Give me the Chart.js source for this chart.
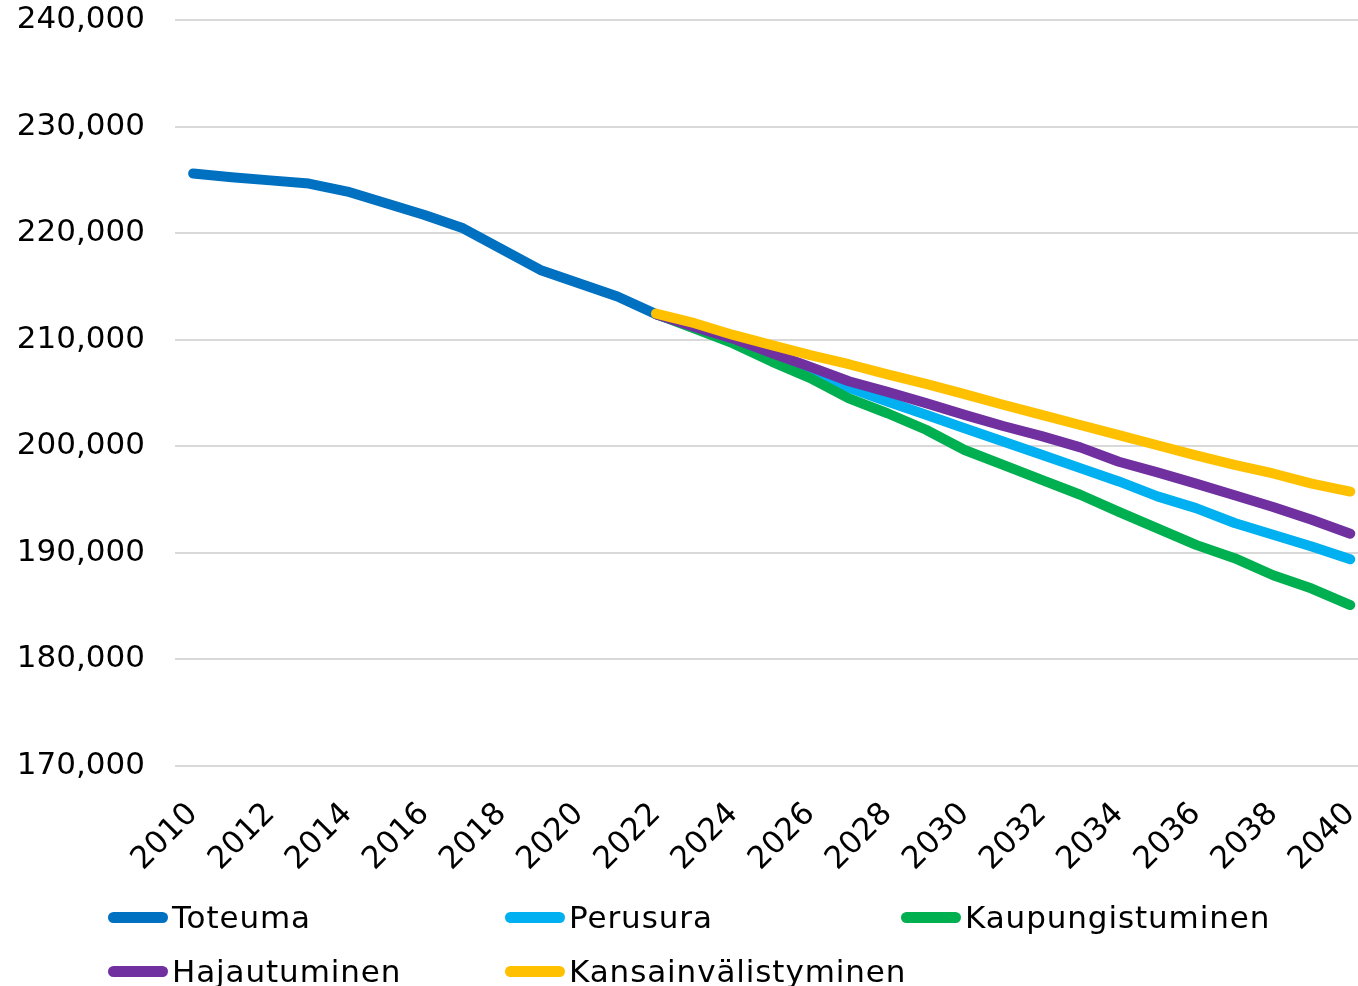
<!DOCTYPE html>
<html>
<head>
<meta charset="utf-8">
<script src="https://cdn.jsdelivr.net/npm/chart.js@4"></script>
<style>
  body { margin: 0; background: #fff; }
  #wrap { position: relative; width: 1358px; height: 986px; }
  #legend { position: absolute; left: 0; top: 0; width: 1358px; height: 986px; pointer-events: none; }
  .item { position: absolute; display: flex; align-items: center; font-family: "DejaVu Sans", sans-serif; font-size: 31px; letter-spacing: 0.9px; color: #000; line-height: 1; }
  .swatch { display: inline-block; width: 60px; height: 11px; border-radius: 6px; margin-right: 4px; }
</style>
</head>
<body>
<div id="wrap">
  <canvas id="myChart" width="1358" height="890"></canvas>
  <div id="legend"></div>
</div>
<script>
// years
const yearsHist = [2010, 2011, 2012, 2013, 2014, 2015, 2016, 2017, 2018, 2019, 2020, 2021, 2022];
const yearsProj = [2022, 2023, 2024, 2025, 2026, 2027, 2028, 2029, 2030, 2031,
                   2032, 2033, 2034, 2035, 2036, 2037, 2038, 2039, 2040];
const xTicks = [2010, 2012, 2014, 2016, 2018, 2020, 2022, 2024, 2026, 2028,
                2030, 2032, 2034, 2036, 2038, 2040];

// population, actual
const toteuma = [225600, 225250, 224950, 224650, 223900, 222800, 221700, 220450, 218500, 216550, 215300, 214050, 212400];

// scenarios
const perusura = [212400, 211200, 210100, 208700, 207000, 205500, 204200, 202950, 201700, 200450,
                  199200, 197950, 196700, 195300, 194200, 192800, 191700, 190600, 189400];
const kaupungistuminen = [212400, 211050, 209650, 207950, 206400, 204500, 203100, 201550, 199650, 198250,
                          196850, 195450, 193850, 192300, 190750, 189500, 187900, 186650, 185100];
const hajautuminen = [212400, 211200, 210100, 208750, 207450, 206100, 205100, 204050, 202950, 201900,
                      200950, 199900, 198550, 197550, 196500, 195400, 194300, 193100, 191800];
const kansainvalistyminen = [212450, 211550, 210450, 209500, 208550, 207700, 206750, 205850, 204900, 203900,
                             202950, 202000, 201050, 200100, 199150, 198250, 197450, 196500, 195750];

const yTicks = [170000, 180000, 190000, 200000, 210000, 220000, 230000, 240000];

const series = [
  { label: 'Toteuma', years: yearsHist, values: toteuma, color: '#0070C0', order: 5 },
  { label: 'Perusura', years: yearsProj, values: perusura, color: '#00B0F0', order: 4 },
  { label: 'Kaupungistuminen', years: yearsProj, values: kaupungistuminen, color: '#00B050', order: 3 },
  { label: 'Hajautuminen', years: yearsProj, values: hajautuminen, color: '#7030A0', order: 2 },
  { label: 'Kansainvälistyminen', years: yearsProj, values: kansainvalistyminen, color: '#FFC000', order: 1 },
];

const tickFont = { family: '"DejaVu Sans", sans-serif', size: 31 };

const data = {
  datasets: series.map(s => ({
    label: s.label,
    data: s.years.map((yr, i) => ({ x: yr, y: s.values[i] })),
    borderColor: s.color,
    backgroundColor: s.color,
    borderWidth: 10,
    borderCapStyle: 'round',
    borderJoinStyle: 'round',
    pointRadius: 0,
    tension: 0,
    fill: false,
    order: s.order,
  }))
};

const config = {
  type: 'line',
  data: data,
  options: {
    responsive: false,
    animation: false,
    layout: { padding: { top: 20, left: 0, right: 0, bottom: 0 } },
    plugins: {
      legend: { display: false },
      tooltip: { enabled: false },
    },
    scales: {
      x: {
        type: 'linear',
        min: 2009.53,
        max: 2040.2,
        grid: { display: false },
        border: { display: false },
        afterBuildTicks: scale => {
          scale.ticks = xTicks.map(v => ({ value: v }));
        },
        afterFit: scale => {
          scale.height = 124;
          scale.paddingLeft = 0;
          scale.paddingRight = 0;
        },
        ticks: {
          autoSkip: false,
          minRotation: 45,
          maxRotation: 45,
          padding: 22,
          color: '#000',
          font: tickFont,
          callback: v => String(v),
        },
      },
      y: {
        min: 170000,
        max: 240000,
        afterBuildTicks: scale => {
          scale.ticks = yTicks.map(v => ({ value: v }));
        },
        afterFit: scale => {
          scale.width = 175;
          scale.paddingTop = 0;
          scale.paddingBottom = 0;
        },
        grid: { color: '#d9d9d9', lineWidth: 2, drawTicks: false },
        border: { display: false },
        ticks: {
          padding: 30,
          color: '#000',
          font: tickFont,
          callback: v => v.toLocaleString('en-US'),
        },
      },
    },
  },
};

const myChart = new Chart(document.getElementById('myChart'), config);

// legend in two rows, three fixed columns
const legendPos = [
  [108, 917], [505, 917], [901, 917],
  [108, 971], [505, 971],
];
const legendEl = document.getElementById('legend');
series.forEach((s, i) => {
  const item = document.createElement('div');
  item.className = 'item';
  item.style.left = legendPos[i][0] + 'px';
  item.style.top = (legendPos[i][1] - 16) + 'px';
  item.style.height = '32px';
  const sw = document.createElement('span');
  sw.className = 'swatch';
  sw.style.background = s.color;
  item.appendChild(sw);
  item.appendChild(document.createTextNode(s.label));
  legendEl.appendChild(item);
});
</script>
</body>
</html>
